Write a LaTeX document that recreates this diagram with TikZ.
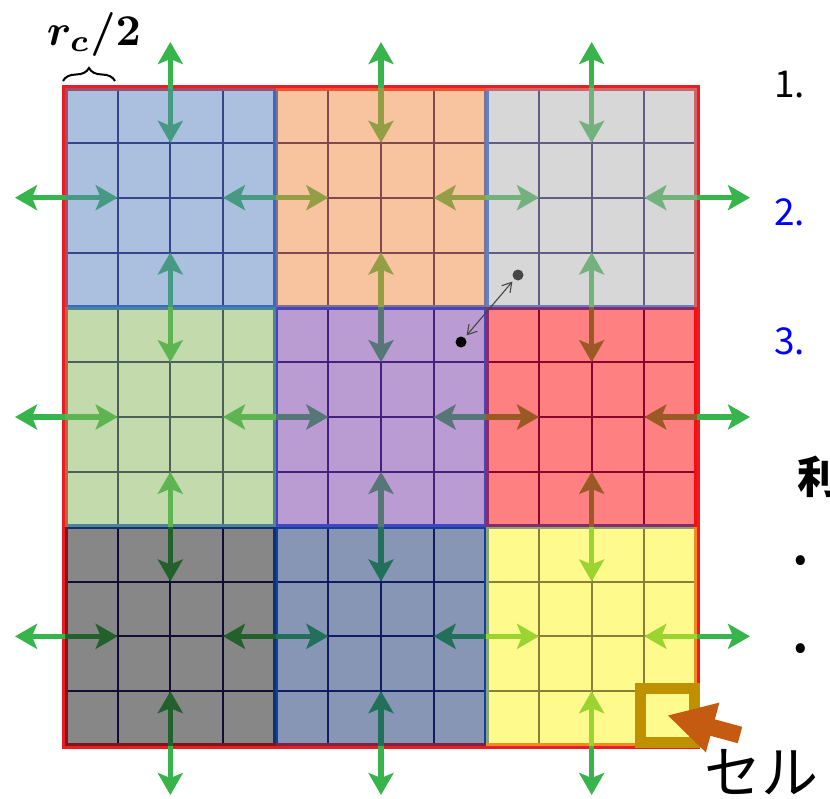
\documentclass[tikz,border=0pt]{standalone}
\usepackage{fontspec}
\usepackage{amsmath,bm}
\newfontfamily\jp{Noto Sans CJK JP}
\usetikzlibrary{arrows.meta,decorations.pathreplacing}
\definecolor{cblue}{RGB}{85,129,189}
\definecolor{corange}{RGB}{241,137,65}
\definecolor{cgray}{RGB}{175,175,175}
\definecolor{cgreen}{RGB}{135,181,89}
\definecolor{cpurple}{RGB}{117,57,165}
\definecolor{cred}{RGB}{255,1,1}
\definecolor{cdark}{RGB}{15,15,15}
\definecolor{cslate}{RGB}{15,45,105}
\definecolor{cyellow}{RGB}{255,245,25}
\definecolor{gridc}{RGB}{20,10,90}
\definecolor{blockc}{RGB}{20,85,215}
\definecolor{borderc}{RGB}{236,28,36}
\definecolor{arrowg}{RGB}{55,180,75}
\definecolor{goldc}{RGB}{191,144,0}
\definecolor{brownc}{RGB}{197,90,17}
\definecolor{dotgray}{RGB}{70,70,70}
\tikzset{
  gridline/.style={draw=gridc, line width=2},
  blockline/.style={draw=blockc, line width=5},
  garrow/.style={draw=arrowg, line width=5.5, {Stealth[length=22pt,width=25pt,inset=5pt]}-{Stealth[length=22pt,width=25pt,inset=5pt]}},
  blockfill/.style={fill=#1, fill opacity=0.5},
  dotnode/.style={circle, fill=#1, inner sep=0pt, minimum size=11pt},
  numtxt/.style={anchor=base west, inner sep=0pt, font=\jp\fontsize{37}{44}\selectfont}
}
\begin{document}
\begin{tikzpicture}[x=1pt,y=-1pt]
\useasboundingbox (0,0) rectangle (830,798);
\def\cw{52.667}
\def\ch{54.833}
% grid lines
\foreach \i in {1,...,11} {
  \draw[gridline] ({65+\i*\cw},88) -- ({65+\i*\cw},746);
  \draw[gridline] (65,{88+\i*\ch}) -- (697,{88+\i*\ch});
}
% block borders
\foreach \i in {0,1,2} {
  \foreach \j in {0,1,2} {
    \draw[blockline] ({65+4*\i*\cw},{88+4*\j*\ch}) rectangle ({65+4*(\i+1)*\cw},{88+4*(\j+1)*\ch});
  }
}
% outer red border
\draw[draw=borderc, line width=6] (65,88) rectangle (697,746);
% green arrows (vertical)
\foreach \c in {0,1,2} {
  \pgfmathsetmacro\xc{65+(4*\c+2)*\cw}
  \coordinate (vt\c a) at (\xc,42);
  \coordinate (vt\c b) at (\xc,{88+\ch});
  \draw[garrow] (vt\c a) -- (vt\c b);
  \coordinate (vm\c a) at (\xc,{88+3*\ch});
  \coordinate (vm\c b) at (\xc,{88+5*\ch});
  \draw[garrow] (vm\c a) -- (vm\c b);
  \coordinate (vn\c a) at (\xc,{88+7*\ch});
  \coordinate (vn\c b) at (\xc,{88+9*\ch});
  \draw[garrow] (vn\c a) -- (vn\c b);
  \coordinate (vb\c a) at (\xc,{88+11*\ch});
  \coordinate (vb\c b) at (\xc,795);
  \draw[garrow] (vb\c a) -- (vb\c b);
}
% green arrows (horizontal)
\foreach \r in {0,1,2} {
  \pgfmathsetmacro\yc{88+(4*\r+2)*\ch}
  \coordinate (hl\r a) at (15,\yc);
  \coordinate (hl\r b) at ({65+\cw},\yc);
  \draw[garrow] (hl\r a) -- (hl\r b);
  \coordinate (hm\r a) at ({65+3*\cw},\yc);
  \coordinate (hm\r b) at ({65+5*\cw},\yc);
  \draw[garrow] (hm\r a) -- (hm\r b);
  \coordinate (hn\r a) at ({65+7*\cw},\yc);
  \coordinate (hn\r b) at ({65+9*\cw},\yc);
  \draw[garrow] (hn\r a) -- (hn\r b);
  \coordinate (hr\r a) at ({65+11*\cw},\yc);
  \coordinate (hr\r b) at (750,\yc);
  \draw[garrow] (hr\r a) -- (hr\r b);
}
% block fills (semi-transparent)
\fill[blockfill=cblue]   (65,88) rectangle ({65+4*\cw},{88+4*\ch});
\fill[blockfill=corange] ({65+4*\cw},88) rectangle ({65+8*\cw},{88+4*\ch});
\fill[blockfill=cgray]   ({65+8*\cw},88) rectangle ({65+12*\cw},{88+4*\ch});
\fill[blockfill=cgreen]  (65,{88+4*\ch}) rectangle ({65+4*\cw},{88+8*\ch});
\fill[blockfill=cpurple] ({65+4*\cw},{88+4*\ch}) rectangle ({65+8*\cw},{88+8*\ch});
\fill[blockfill=cred]    ({65+8*\cw},{88+4*\ch}) rectangle ({65+12*\cw},{88+8*\ch});
\fill[blockfill=cdark]   (65,{88+8*\ch}) rectangle ({65+4*\cw},{88+12*\ch});
\fill[blockfill=cslate]  ({65+4*\cw},{88+8*\ch}) rectangle ({65+8*\cw},{88+12*\ch});
\fill[blockfill=cyellow] ({65+8*\cw},{88+8*\ch}) rectangle ({65+12*\cw},{88+12*\ch});
% particles
\node[dotnode=dotgray] (pa) at (518,275) {};
\node[dotnode=black] (pb) at (461,342) {};
\draw[draw=dotgray, line width=1.1, {Straight Barb[length=9pt,width=11pt]}-{Straight Barb[length=9pt,width=11pt]}, shorten <=3pt, shorten >=3pt] (pb) -- (pa);
% highlighted cell
\node[draw=goldc, line width=11, minimum width=54.5pt, minimum height=54.5pt, inner sep=0pt] (cell) at (667.25,715.25) {};
% brown arrow
\coordinate (btail) at (740,735);
\draw[draw=brownc, line width=17, -{Triangle[length=47pt,width=48pt]}] (btail) -- (cell.center);
% labels
\draw[decorate, decoration={brace, amplitude=13pt}, line width=2] (63,81) -- (115,81);
\node[anchor=base west, inner sep=0pt, scale=4.4] (rc) at (46,45) {$\boldsymbol{r_c/2}$};
\node[numtxt] (n1) at (774,97) {1.};
\node[numtxt, text={rgb,255:red,0;green,0;blue,255}] (n2) at (774,225) {2.};
\node[numtxt, text={rgb,255:red,0;green,0;blue,255}] (n3) at (774,354) {3.};
\node[anchor=base west, inner sep=0pt, font=\jp\bfseries\fontsize{44}{50}\selectfont] (ri) at (797,493) {利};
\node[numtxt] (b1) at (794,571) {•};
\node[numtxt] (b2) at (794,659) {•};
\node[anchor=base west, inner sep=0pt, font=\jp\fontsize{57}{64}\selectfont] (seru) at (704,793) {セル};
\end{tikzpicture}
\end{document}
